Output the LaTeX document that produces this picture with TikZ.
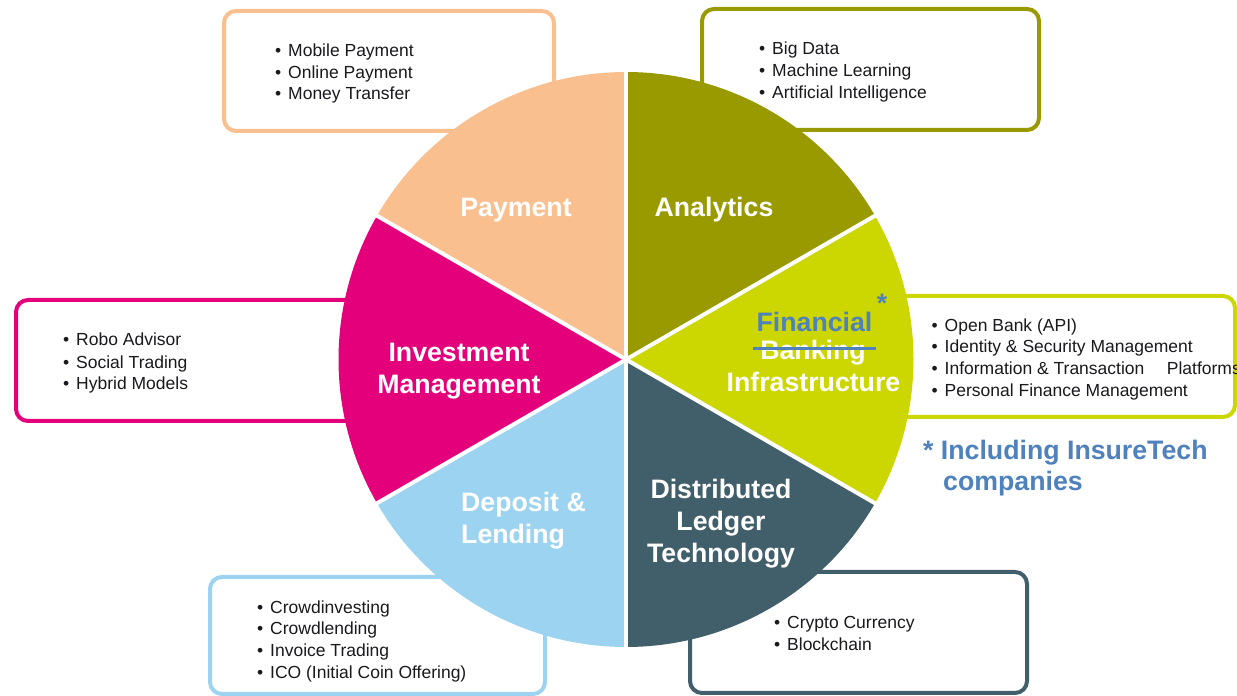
\documentclass[tikz,border=0pt]{standalone}
\usepackage{fontspec}
\usetikzlibrary{calc}
\setmainfont{Liberation Sans}
\definecolor{cpay}{RGB}{249,191,143}
\definecolor{cana}{RGB}{153,153,0}
\definecolor{cfin}{RGB}{204,214,0}
\definecolor{cdlt}{RGB}{65,94,107}
\definecolor{cdep}{RGB}{156,211,240}
\definecolor{cinv}{RGB}{227,0,122}
\definecolor{cblue}{RGB}{79,129,189}
\definecolor{ctext}{RGB}{25,25,30}
\begin{document}
\begin{tikzpicture}[x=1pt,y=1pt,
  infobox/.style={line width=4pt, rounded corners=12pt, fill=white},
  item/.style={anchor=base west, inner sep=0pt, text=ctext, font=\fontsize{17.5}{21}\selectfont},
  seclabel/.style={anchor=base, inner sep=0pt, text=white, font=\bfseries\fontsize{26.7}{32}\selectfont},
  bluelabel/.style={inner sep=0pt, text=cblue, font=\bfseries\fontsize{26.7}{32}\selectfont},
  sep/.style={white, line width=4pt}]
\useasboundingbox (0,0) rectangle (1237,696);
\fill[white] (0,0) rectangle (1237,696);
\newcommand{\bl}{\llap{\textbullet\hspace{7pt}}}
% info boxes (behind pie)
\draw[infobox, draw=cpay] (224,565) rectangle (554,685);
\draw[infobox, draw=cana] (702,566) rectangle (1039,687);
\draw[infobox, draw=cfin] (860,279) rectangle (1235,400);
\draw[infobox, draw=cinv] (16,275) rectangle (400,396);
\draw[infobox, draw=cdep] (210,2) rectangle (545,119);
\draw[infobox, draw=cdlt] (690,3) rectangle (1027,124);
% pie
\coordinate (C) at (626,336.5);
\fill[cana] (C) -- ++(30:287.5pt) arc[start angle=30, end angle=90, radius=287.5pt] -- cycle;
\fill[cpay] (C) -- ++(90:287.5pt) arc[start angle=90, end angle=150, radius=287.5pt] -- cycle;
\fill[cinv] (C) -- ++(150:287.5pt) arc[start angle=150, end angle=210, radius=287.5pt] -- cycle;
\fill[cdep] (C) -- ++(210:287.5pt) arc[start angle=210, end angle=270, radius=287.5pt] -- cycle;
\fill[cdlt] (C) -- ++(270:287.5pt) arc[start angle=270, end angle=330, radius=287.5pt] -- cycle;
\fill[cfin] (C) -- ++(-30:287.5pt) arc[start angle=-30, end angle=30, radius=287.5pt] -- cycle;
\draw[sep] ($(C)+(90:292pt)$) -- ($(C)+(270:292pt)$);
\draw[sep] ($(C)+(30:292pt)$) -- ($(C)+(210:292pt)$);
\draw[sep] ($(C)+(150:292pt)$) -- ($(C)+(330:292pt)$);
% sector labels
\node[seclabel] (lpay) at (516,479) {Payment};
\node[seclabel] (lana) at (714,479) {Analytics};
\node[seclabel] (linv1) at (459,334) {Investment};
\node[seclabel] (linv2) at (459,302) {Management};
\node[seclabel, anchor=base west] (ldep1) at (461,184) {Deposit \&};
\node[seclabel, anchor=base west] (ldep2) at (461,152) {Lending};
\node[seclabel] (ldlt1) at (721,197) {Distributed};
\node[seclabel] (ldlt2) at (721,165) {Ledger};
\node[seclabel] (ldlt3) at (721,133) {Technology};
\node[bluelabel, anchor=base] (lfin1) at (814.5,364.3) {Financial};
\node[seclabel] (lfin2) at (813,336) {Banking};
\node[seclabel] (lfin3) at (813.5,304.3) {Infrastructure};
\coordinate (s1) at (753,347.7);
\coordinate (s2) at (876,347.7);
\draw[cblue, line width=3.5pt] (s1) -- (s2);
\node[bluelabel, anchor=base] (ast) at (882,383) {*};
\node[bluelabel, anchor=base west] (note1) at (923,236) {* Including InsureTech};
\node[bluelabel, anchor=base west] (note2) at (943,205) {companies};
% bullet items
\node[item] (p1) at (288,639.3) {\bl Mobile Payment};
\node[item] (p2) at (288,617.7) {\bl Online Payment};
\node[item] (p3) at (288,596) {\bl Money Transfer};
\node[item] (a1) at (772,641) {\bl Big Data};
\node[item] (a2) at (772,619.3) {\bl Machine Learning};
\node[item] (a3) at (772,597) {\bl Artificial Intelligence};
\node[item] (i1) at (76,350) {\bl Robo Advisor};
\node[item] (i2) at (76,327.7) {\bl Social Trading};
\node[item] (i3) at (76,306) {\bl Hybrid Models};
\node[item] (f1) at (944.5,364.3) {\bl Open Bank (API)};
\node[item] (f2) at (944.5,343.3) {\bl Identity \& Security Management};
\node[item] (f3) at (944.5,321) {\bl Information \& Transaction};
\node[item] (f3b) at (1166.7,321) {Platforms};
\node[item] (f4) at (944.5,299.3) {\bl Personal Finance Management};
\node[item] (d1) at (270,82.7) {\bl Crowdinvesting};
\node[item] (d2) at (270,61) {\bl Crowdlending};
\node[item] (d3) at (270,39.3) {\bl Invoice Trading};
\node[item] (d4) at (270,17.7) {\bl ICO (Initial Coin Offering)};
\node[item] (t1) at (787,67.7) {\bl Crypto Currency};
\node[item] (t2) at (787,45.3) {\bl Blockchain};
\end{tikzpicture}
\end{document}
